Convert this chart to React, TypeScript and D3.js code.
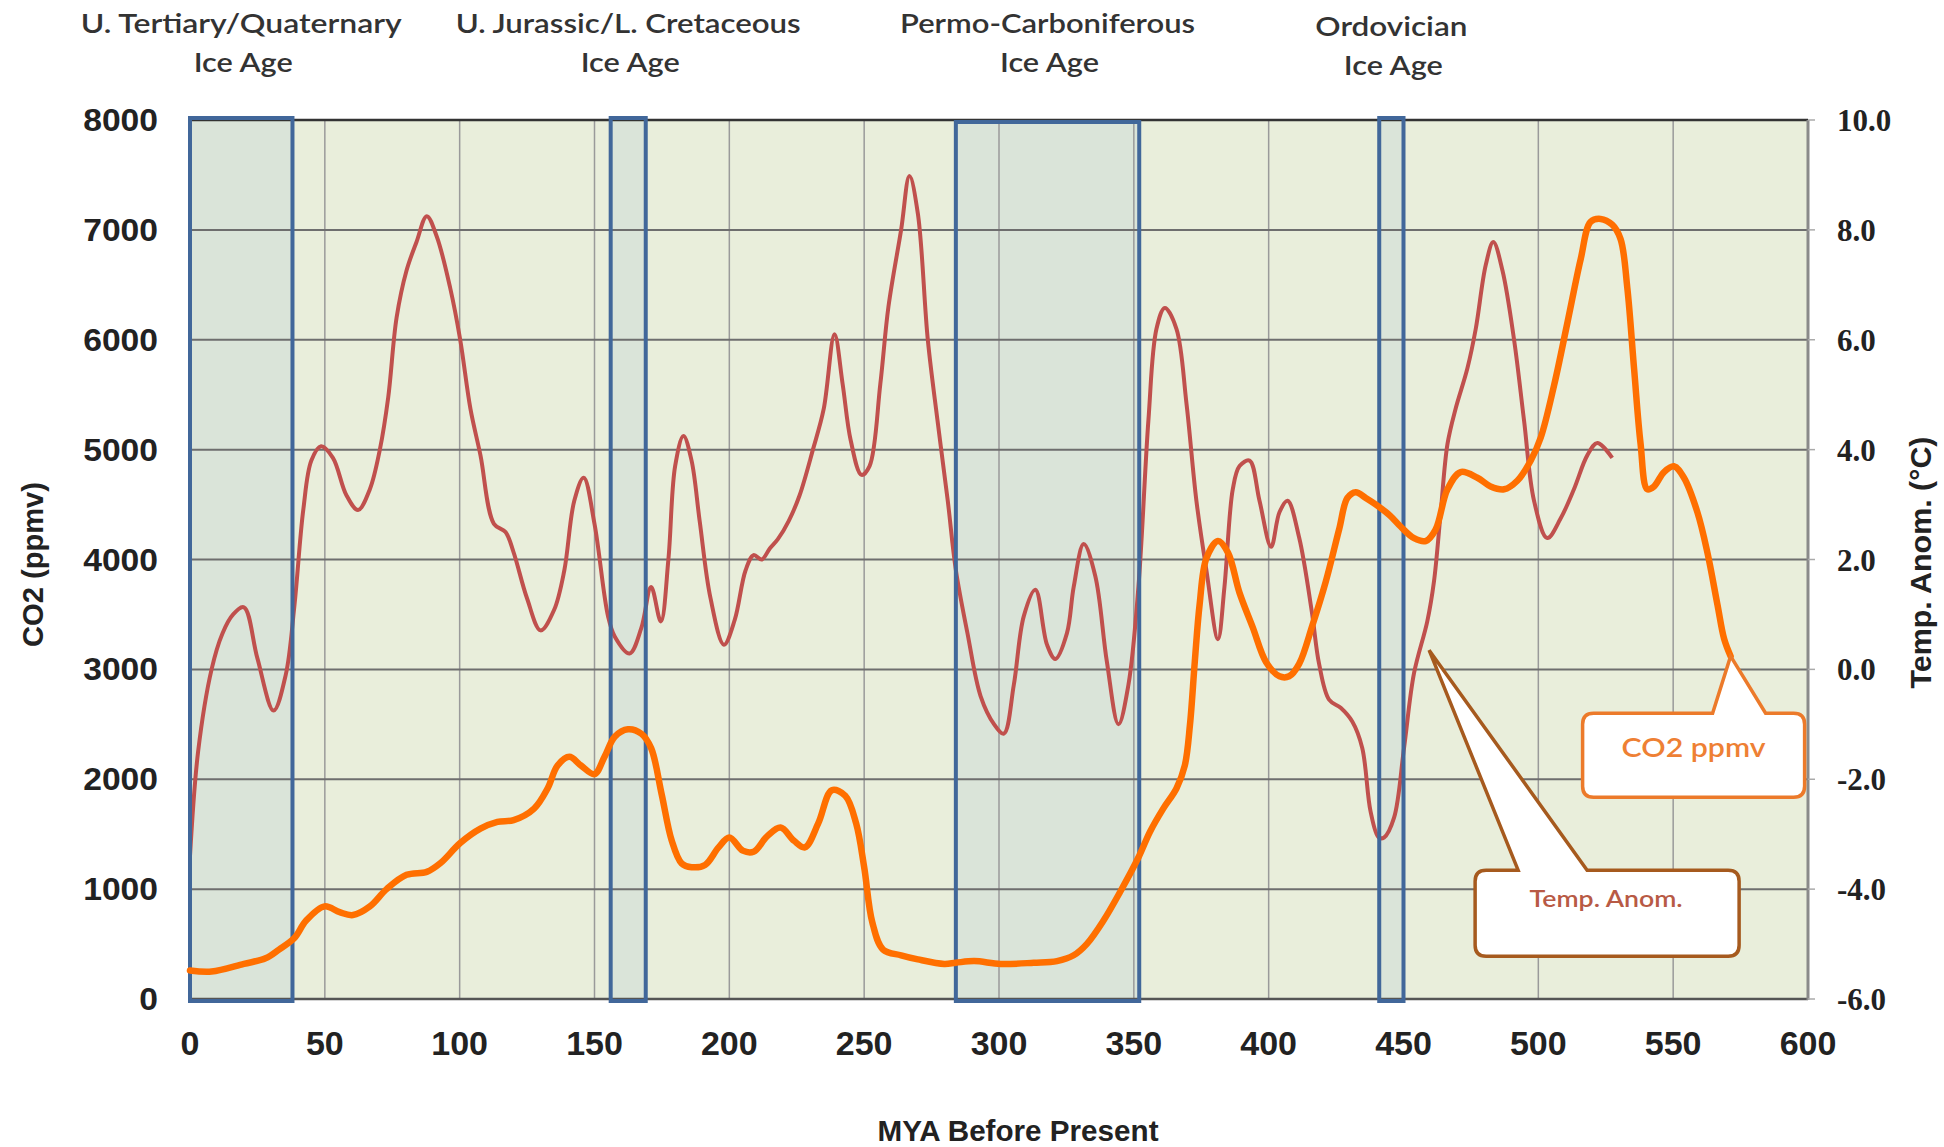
import React from "react";
import * as d3 from "d3";

// axis ticks
export const xTicks = [0, 50, 100, 150, 200, 250, 300, 350, 400, 450, 500, 550, 600];
export const co2Ticks = [0, 1000, 2000, 3000, 4000, 5000, 6000, 7000, 8000];
export const tempTicks = [-6, -4, -2, 0, 2, 4, 6, 8, 10];

// ice ages (MYA)
export const iceAgeNames = [
  "U. Tertiary/Quaternary",
  "U. Jurassic/L. Cretaceous",
  "Permo-Carboniferous",
  "Ordovician",
];
export const iceAgeStart = [0, 156, 284, 441];
export const iceAgeEnd = [38, 169, 352, 450];

// temperature anomaly (°C) by MYA
export const tempMya = [
  0, 3, 8, 12, 16, 20, 25, 31, 35.5, 38.7, 42, 45, 48.6, 53, 58, 62.3, 66.7, 70.4, 73.5, 76.6,
  80.3, 84, 87.8, 91.5, 96.5, 100.2, 104, 107.7, 112.7, 117, 120, 125, 130, 135, 138.8, 142.5,
  146, 150, 155, 157.5, 163, 167.4, 171, 174.6, 177.4, 179.9, 183, 186, 189, 193, 198, 202, 206,
  209, 212, 215, 218, 222, 226, 231, 235, 239, 242, 245, 249, 252, 256, 259, 263.7, 266.8, 269.9,
  273.6, 277.2, 281, 284, 288.3, 293.2, 298.2, 301.8, 305.5, 309.2, 313.5, 317.8, 320.9, 325.2,
  327.7, 331.4, 335.7, 340, 344.3, 348, 351.7, 355.4, 358.4, 361.5, 365.8, 369.5, 373.2, 376.9,
  381.2, 383.6, 386.7, 389.2, 392.9, 396.6, 400.9, 404, 407, 411.3, 416, 418.7, 422.4, 426.7,
  431, 434.7, 437.8, 440.8, 442.8, 446.5, 450.2, 453.9, 458.8, 461.3, 463.8, 466.3, 469.3, 473.7,
  476.8, 480.5, 483.3, 486.7, 491, 494.7, 498.4, 503.3, 508.3, 513.2, 518.2, 521.9, 527.4,
];
export const tempAnom = [
  -3.4, -1.5, 0.0, 0.65, 1.0, 1.13, 0.2, -0.75, -0.1, 1.15, 2.9, 3.8, 4.06, 3.85, 3.17, 2.9, 3.28,
  4.0, 4.95, 6.4, 7.26, 7.78, 8.25, 7.88, 6.94, 6.0, 4.74, 3.9, 2.65, 2.5, 2.13, 1.29, 0.71, 1.08,
  1.8, 3.07, 3.49, 2.65, 0.97, 0.6, 0.29, 0.76, 1.5, 0.87, 2.0, 3.7, 4.25, 3.8, 2.7, 1.3, 0.45,
  0.9, 1.8, 2.08, 2.0, 2.2, 2.37, 2.7, 3.16, 4.0, 4.74, 6.1, 5.2, 4.17, 3.54, 3.7, 5.2, 6.6, 8.0,
  8.98, 8.3, 6.0, 4.53, 3.07, 1.81, 0.66, -0.49, -1.0, -1.17, -0.28, 0.97, 1.45, 0.45, 0.19, 0.66,
  1.5, 2.28, 1.7, 0.14, -1.0, -0.28, 1.5, 4.53, 6.2, 6.58, 6.2, 4.85, 3.07, 1.81, 0.55, 1.5, 3.28,
  3.7, 3.8, 3.07, 2.23, 2.86, 3.07, 2.4, 1.05, 0.1, -0.55, -0.7, -0.95, -1.43, -2.59, -3.06,
  -3.06, -2.7, -1.43, -0.07, 0.87, 1.6, 2.86, 4.1, 4.74, 5.48, 6.2, 7.36, 7.78, 7.26, 6.0, 4.53,
  3.07, 2.39, 2.75, 3.28, 3.9, 4.12, 3.85,
];

// CO2 (ppmv) by MYA
export const co2Mya = [
  0, 8, 20, 28, 33, 38.7, 43, 49.9, 55.5, 60.4, 66.7, 72.9, 80.3, 87.8, 92.8, 100.2, 107.7, 114,
  120, 127.6, 132.6, 136.3, 140.7, 145, 150, 153.7, 157.5, 162.4, 167.4, 171, 174.9, 178.6, 182.3,
  186, 191, 196, 200, 205, 209, 214, 219, 224, 228, 233, 238, 243, 247, 250, 253, 257, 263.7,
  269.9, 279.7, 284, 290.8, 300.6, 312.9, 321.5, 327.7, 332.6, 338.7, 344.9, 351.7, 356, 360.9,
  365.8, 368.9, 370.8, 372.6, 374.4, 376.9, 381.2, 384.9, 389.2, 394.1, 399, 404, 407.6, 411.3,
  416.2, 421.2, 426.1, 429.2, 432.3, 436, 440.8, 445, 449, 453.9, 458.2, 461.9, 466.3, 471.2,
  477.4, 482.3, 487.3, 492.2, 497.2, 500.9, 505.8, 510.8, 515.7, 519.4, 523.1, 527.4, 530.5, 533,
  535.5, 537.9, 540.4, 542.9, 546.6, 550.3, 554, 559, 562.7, 566.4, 568.9, 571.3,
];
export const co2Ppmv = [
  260, 250, 320, 370, 450, 555, 712, 843, 790, 764, 843, 1000, 1130, 1157, 1235, 1419, 1550, 1612,
  1628, 1733, 1916, 2125, 2204, 2125, 2047, 2204, 2387, 2455, 2414, 2283, 1864, 1445, 1235, 1200,
  1220, 1380, 1470, 1350, 1340, 1480, 1560, 1440, 1380, 1600, 1900, 1850, 1600, 1200, 700, 450,
  398, 361, 319, 330, 345, 319, 330, 345, 398, 502, 712, 974, 1288, 1523, 1733, 1916, 2125, 2492,
  3068, 3592, 4010, 4168, 4063, 3696, 3382, 3068, 2937, 2937, 3050, 3400, 3801, 4272, 4560, 4613,
  4560, 4482, 4400, 4298, 4194, 4168, 4272, 4639, 4796, 4744, 4665, 4639, 4717, 4901, 5110, 5581,
  6157, 6733, 7073, 7100, 7047, 6916, 6471, 5738, 5058, 4639, 4665, 4796, 4848, 4744, 4429, 4063,
  3592, 3277, 3120,
];

const width = 1944;
const height = 1147;
const margin = { left: 190, right: 136, top: 120, bottom: 148 };

const x = d3.scaleLinear().domain([0, 600]).range([margin.left, width - margin.right]);
const yCo2 = d3.scaleLinear().domain([0, 8000]).range([height - margin.bottom, margin.top]);
const yTemp = d3.scaleLinear().domain([-6, 10]).range([height - margin.bottom, margin.top]);

const titleWidths = [321, 345, 295, 152];
const titleDrop = [0, 0, 0, 3];
const boxTopDrop = [0, 0, 4, 0];

const calloutPath = (
  x0: number, y0: number, x1: number, y1: number,
  bl: number, br: number, tx: number, ty: number, r: number
) =>
  `M${x0 + r},${y0} L${bl},${y0} L${tx},${ty} L${br},${y0} L${x1 - r},${y0} ` +
  `Q${x1},${y0} ${x1},${y0 + r} L${x1},${y1 - r} Q${x1},${y1} ${x1 - r},${y1} ` +
  `L${x0 + r},${y1} Q${x0},${y1} ${x0},${y1 - r} L${x0},${y0 + r} Q${x0},${y0} ${x0 + r},${y0} Z`;

const App = () => {
  const temps = tempMya.map((m, i) => [m, tempAnom[i]]);
  const co2 = co2Mya.map((m, i) => [m, co2Ppmv[i]]);

  const tempLine = d3
    .line<number[]>()
    .x((d) => x(d[0]))
    .y((d) => yTemp(d[1]))
    .curve(d3.curveCatmullRom.alpha(0.5));
  const co2Line = d3
    .line<number[]>()
    .x((d) => x(d[0]))
    .y((d) => yCo2(d[1]))
    .curve(d3.curveCatmullRom.alpha(0.5));

  const plotL = x(0);
  const plotR = x(600);
  const plotT = yCo2(8000);
  const plotB = yCo2(0);

  // callout anchors, at the end of the CO2 curve and beside the temperature rise
  const co2Tip = [x(co2Mya[co2Mya.length - 1]), yCo2(co2Ppmv[co2Ppmv.length - 1])];
  const tempTip = [x(459.5), yTemp(0.35)];

  const axisFont = "'Liberation Sans', Arial, sans-serif";
  const titleFont = "Lato, 'Open Sans', sans-serif";

  return (
    <svg
      width={width}
      height={height}
      style={{ position: "absolute", left: 0, top: 0, background: "#fff" }}
    >
      {/* plot background */}
      <rect x={plotL} y={plotT} width={plotR - plotL} height={plotB - plotT} fill="#E9EEDB" />

      {/* ice age shading */}
      {iceAgeStart.map((s, i) => (
        <rect
          key={"f" + i}
          x={x(s)}
          y={plotT}
          width={x(iceAgeEnd[i]) - x(s)}
          height={plotB - plotT}
          fill="#DAE4D9"
        />
      ))}

      {/* grid */}
      {xTicks.slice(1, -1).map((t) => (
        <line key={"vx" + t} x1={x(t)} x2={x(t)} y1={plotT} y2={plotB} stroke="#9a9a9a" strokeWidth={1.5} />
      ))}
      {co2Ticks.slice(1, -1).map((t) => (
        <line key={"hy" + t} x1={plotL} x2={plotR} y1={yCo2(t)} y2={yCo2(t)} stroke="#6e6e6e" strokeWidth={2} />
      ))}
      <line x1={plotL} x2={plotR} y1={plotT} y2={plotT} stroke="#333" strokeWidth={2.5} />
      <line x1={plotL} x2={plotR} y1={plotB} y2={plotB} stroke="#555" strokeWidth={2.5} />
      <line x1={plotR} x2={plotR} y1={plotT} y2={plotB + 1} stroke="#8a8a8a" strokeWidth={3} />
      {tempTicks.map((t) => (
        <line key={"rt" + t} x1={plotR} x2={plotR + 7} y1={yTemp(t)} y2={yTemp(t)} stroke="#aaa" strokeWidth={1.5} />
      ))}

      {/* temperature anomaly */}
      <path d={tempLine(temps) || ""} fill="none" stroke="#C0504D" strokeWidth={4} strokeLinejoin="round" />

      {/* ice age borders */}
      {iceAgeStart.map((s, i) => (
        <rect
          key={"b" + i}
          x={x(s)}
          y={plotT - 2 + boxTopDrop[i]}
          width={x(iceAgeEnd[i]) - x(s)}
          height={plotB - plotT + 4 - boxTopDrop[i]}
          fill="none"
          stroke="#41679A"
          strokeWidth={4}
        />
      ))}

      {/* CO2 */}
      <path d={co2Line(co2) || ""} fill="none" stroke="#FF6F00" strokeWidth={6.5} strokeLinejoin="round" strokeLinecap="round" />

      {/* ice age titles */}
      {iceAgeNames.map((n, i) => {
        const cx = x((iceAgeStart[i] + iceAgeEnd[i]) / 2);
        return (
          <g key={"t" + i} fontFamily={titleFont} fontWeight={600} fontSize={27} fill="#333" textAnchor="middle">
            <text x={cx} y={33 + titleDrop[i]} textLength={titleWidths[i]} lengthAdjust="spacingAndGlyphs">
              {n}
            </text>
            <text x={cx + 2} y={72 + titleDrop[i]} textLength={99} lengthAdjust="spacingAndGlyphs">
              Ice Age
            </text>
          </g>
        );
      })}

      {/* left axis */}
      {co2Ticks.map((t) => (
        <text
          key={"l" + t}
          x={158}
          y={yCo2(t) + 11}
          textAnchor="end"
          fontFamily={axisFont}
          fontWeight="bold"
          fontSize={31}
          fill="#222"
          textLength={String(t).length * 18.7}
          lengthAdjust="spacingAndGlyphs"
        >
          {t}
        </text>
      ))}
      {/* right axis */}
      {tempTicks.map((t) => (
        <text
          key={"r" + t}
          x={1837}
          y={yTemp(t) + 11}
          fontFamily="'Liberation Serif', 'Times New Roman', serif"
          fontWeight="bold"
          fontSize={31}
          fill="#222"
        >
          {t.toFixed(1)}
        </text>
      ))}
      {/* bottom axis */}
      {xTicks.map((t) => (
        <text
          key={"x" + t}
          x={x(t)}
          y={1055}
          textAnchor="middle"
          fontFamily={axisFont}
          fontWeight="bold"
          fontSize={34}
          fill="#222"
        >
          {t}
        </text>
      ))}

      {/* axis titles */}
      <text
        transform={`translate(43, ${(plotT + plotB) / 2 + 5}) rotate(-90)`}
        textAnchor="middle"
        fontFamily={axisFont}
        fontWeight="bold"
        fontSize={30}
        fill="#222"
        textLength={165}
        lengthAdjust="spacingAndGlyphs"
      >
        CO2 (ppmv)
      </text>
      <text
        transform={`translate(1931, ${(plotT + plotB) / 2 + 3}) rotate(-90)`}
        textAnchor="middle"
        fontFamily={axisFont}
        fontWeight="bold"
        fontSize={30}
        fill="#222"
        textLength={252}
        lengthAdjust="spacingAndGlyphs"
      >
        Temp. Anom.  (°C)
      </text>
      <text
        x={(plotL + plotR) / 2 + 19}
        y={1141}
        textAnchor="middle"
        fontFamily={axisFont}
        fontWeight="bold"
        fontSize={30}
        fill="#222"
        textLength={281}
        lengthAdjust="spacingAndGlyphs"
      >
        MYA Before Present
      </text>

      {/* callouts */}
      <path
        d={calloutPath(
          co2Tip[0] - 148, co2Tip[1] + 57, co2Tip[0] + 74, co2Tip[1] + 141,
          co2Tip[0] - 18, co2Tip[0] + 35, co2Tip[0], co2Tip[1], 11
        )}
        fill="#fff"
        stroke="#EC7A2A"
        strokeWidth={3.5}
      />
      <text
        x={co2Tip[0] - 37}
        y={co2Tip[1] + 101}
        textAnchor="middle"
        fontFamily={titleFont}
        fontWeight={600}
        fontSize={27}
        fill="#EE8034"
        textLength={144}
        lengthAdjust="spacingAndGlyphs"
      >
        CO2 ppmv
      </text>
      <path
        d={calloutPath(
          tempTip[0] + 46, tempTip[1] + 220, tempTip[0] + 310, tempTip[1] + 306,
          tempTip[0] + 89, tempTip[0] + 158, tempTip[0], tempTip[1], 11
        )}
        fill="#fff"
        stroke="#A65A1E"
        strokeWidth={3.5}
      />
      <text
        x={tempTip[0] + 177}
        y={tempTip[1] + 257}
        textAnchor="middle"
        fontFamily={titleFont}
        fontWeight={600}
        fontSize={23}
        fill="#B85A45"
        textLength={153}
        lengthAdjust="spacingAndGlyphs"
      >
        Temp. Anom.
      </text>
    </svg>
  );
};

export default App;
